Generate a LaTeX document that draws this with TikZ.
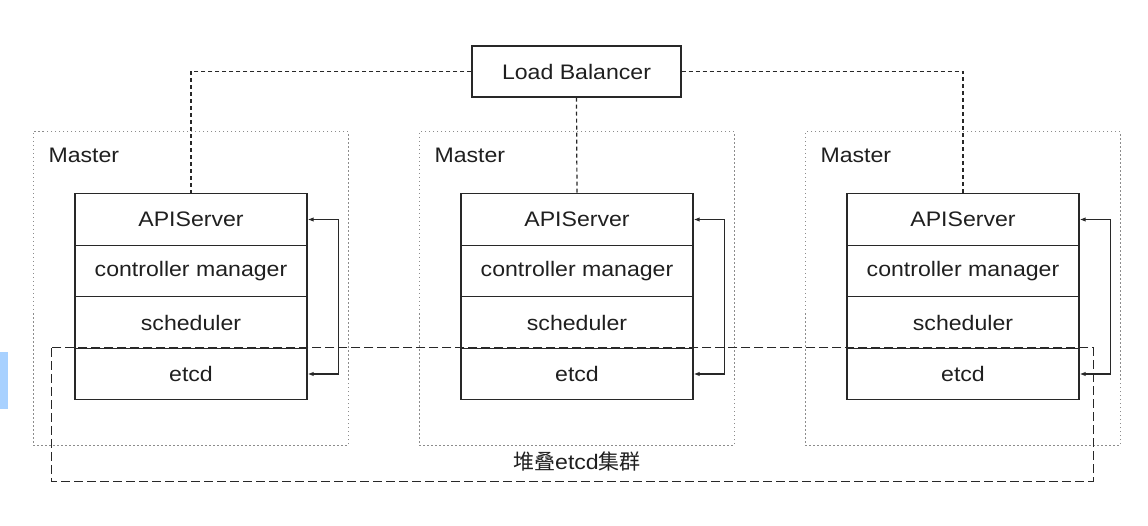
\documentclass[tikz,border=0pt]{standalone}
\usepackage{fontspec}
\setmainfont[FakeStretch=1.1]{Liberation Sans}
\newfontfamily\cjk{Noto Sans CJK SC}
\usetikzlibrary{arrows.meta}
\definecolor{ln}{RGB}{40,40,40}
\definecolor{dotc}{RGB}{140,140,140}
\definecolor{barblue}{RGB}{168,209,255}
\tikzset{
  lbl/.style={font=\fontsize{21}{24}\selectfont, text=black!88},
  layer/.style={draw=ln, line width=1.3pt, minimum width=232pt, minimum height=51.5pt, inner sep=0pt, lbl},
  masterbox/.style={draw=dotc, line width=1pt, dash pattern=on 1.5pt off 2.5pt, minimum width=315pt, minimum height=313pt, inner sep=0pt},
  clusterbox/.style={minimum width=1041pt, minimum height=133pt, inner sep=0pt},
  lbline/.style={draw=ln, line width=1.2pt, dash pattern=on 4pt off 3pt},
  loop/.style={draw=ln, line width=1.2pt, {Latex[length=6pt,width=4.5pt]}-{Latex[length=6pt,width=4.5pt]}},
}
\begin{document}
\begin{tikzpicture}[x=1pt,y=-1pt]
\useasboundingbox (0,0) rectangle (1148,526);
\fill[barblue] (0,352) rectangle (8,409);
% master boxes
\node[masterbox] (m1) at (190.5,288.5) {};
\node[masterbox] (m2) at (576.5,288.5) {};
\node[masterbox] (m3) at (962.5,288.5) {};
\node[lbl, anchor=base west] (ml1) at (45,163) {Master};
\node[lbl, anchor=base west] (ml2) at (431,163) {Master};
\node[lbl, anchor=base west] (ml3) at (817,163) {Master};
% cluster box (drawn later)
\node[clusterbox] (cl) at (572.5,414.5) {};
\node[lbl, anchor=base] (cltxt) at (577,469) {{\cjk 堆叠}etcd{\cjk 集群}};
% load balancer
\node[draw=ln, line width=1.3pt, minimum width=209pt, minimum height=51pt, inner sep=0pt, lbl, fill=white] (lb) at (576.5,71.5) {\raisebox{-1.5pt}{Load Balancer}};
% stacks
\foreach \i/\x in {1/191,2/577,3/963}{
  \node[layer] (api\i) at (\x,219.5) {\raisebox{-1.5pt}{APIServer}};
  \node[layer] (cm\i) at (\x,271) {\raisebox{-1.5pt}{controller manager}};
  \node[layer] (sch\i) at (\x,322.5) {\raisebox{-1.5pt}{scheduler}};
  \node[layer] (etcd\i) at (\x,374) {\raisebox{-1.5pt}{etcd}};
  \draw[loop] (api\i.east) -- ++(31,0) |- (etcd\i.east);
}
% LB connectors
\draw[lbline] (lb.west) -| (api1.north);
\draw[lbline] (lb.south) -- (api2.north);
\draw[lbline] (lb.east) -| (api3.north);
% cluster outline
\draw[ln, line width=1.2pt, dash pattern=on 9pt off 4pt] (cl.north west) rectangle (cl.south east);
\end{tikzpicture}
\end{document}
